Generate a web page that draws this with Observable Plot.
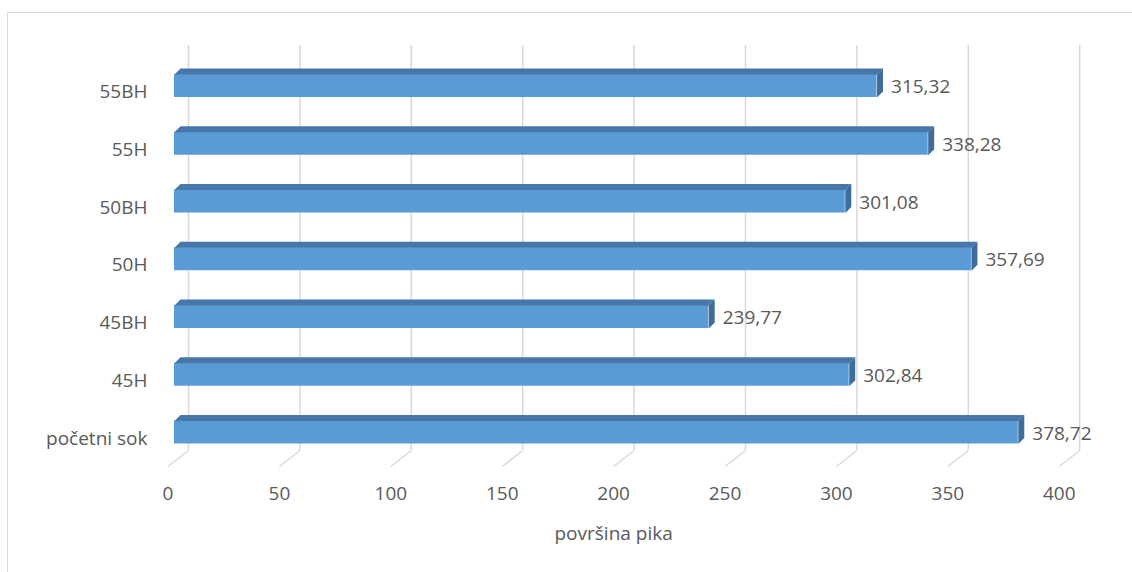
<!DOCTYPE html>
<html>
<head>
<meta charset="utf-8">
<script src="https://cdn.jsdelivr.net/npm/d3@7"></script>
<script src="https://cdn.jsdelivr.net/npm/@observablehq/plot@0.6"></script>
<style>
  html, body { margin: 0; padding: 0; background: #fff; overflow: hidden; width: 1132px; height: 572px; }
  #frame { position: absolute; left: 7px; top: 12px; width: 1140px; height: 580px; border: 1px solid #d9d9d9; box-sizing: border-box; }
  #chart { position: absolute; left: 0; top: 0; }
</style>
</head>
<body>
<div id="frame"></div>
<div id="chart"></div>
<script>
// Data (bottom to top)
const categories = ["početni sok", "45H", "45BH", "50H", "50BH", "55H", "55BH"];
const values = [378.72, 302.84, 239.77, 357.69, 301.08, 338.28, 315.32];
const valueLabels = ["378,72", "302,84", "239,77", "357,69", "301,08", "338,28", "315,32"];
const xTicks = [0, 50, 100, 150, 200, 250, 300, 350, 400];
const xTitle = "površina pika";

const bars = categories.map((c, i) => ({cat: c, i, v: values[i], label: valueLabels[i]}));

// 3D geometry (in data units)
const half = 0.199;     // half height of the front face
const depthY = 0.104;   // top face depth (vertical)
const depthX = 2.69;    // top face depth (horizontal)
const backX = 6.28, frontX = -2.9;
const gridTop = 6.70, gridBottom = -0.312, floorFront = -0.589;

const topFaces = bars.flatMap(b => [
  {cat: b.cat, x: 0, y: b.i + half},
  {cat: b.cat, x: b.v, y: b.i + half},
  {cat: b.cat, x: b.v + depthX, y: b.i + half + depthY},
  {cat: b.cat, x: depthX, y: b.i + half + depthY}
]);
const sideFaces = bars.flatMap(b => [
  {cat: b.cat, x: b.v, y: b.i - half},
  {cat: b.cat, x: b.v, y: b.i + half},
  {cat: b.cat, x: b.v + depthX, y: b.i + half + depthY},
  {cat: b.cat, x: b.v + depthX, y: b.i - half + depthY}
]);

const font = "'Open Sans', sans-serif";
const textColor = "#595959";
const gridColor = "#d9d9d9";

const chart = Plot.plot({
  width: 1132,
  height: 572,
  margin: 0,
  style: {fontFamily: font, background: "transparent"},
  x: {domain: [0, 400], range: [174, 1065.2], axis: null},
  y: {domain: [0, 6], range: [432, 85.5], axis: null},
  marks: [
    Plot.ruleX(xTicks, {x: d => d + backX, y1: gridBottom, y2: gridTop, stroke: gridColor, strokeWidth: 1.5}),
    Plot.link(xTicks, {x1: d => d + backX, y1: gridBottom, x2: d => d + frontX, y2: floorFront, stroke: gridColor, strokeWidth: 1.5}),
    Plot.rect(bars, {x1: 0, x2: "v", y1: d => d.i - half, y2: d => d.i + half, fill: "#5b9bd5"}),
    Plot.line(topFaces, {x: "x", y: "y", z: "cat", fill: "#4677a8", stroke: "none"}),
    Plot.line(sideFaces, {x: "x", y: "y", z: "cat", fill: "#3e6d9a", stroke: "none"}),
    Plot.text(bars, {x: d => d.v + depthX, y: "i", text: "label", dx: 8, dy: 1, textAnchor: "start", fontSize: 19, fill: textColor}),
    Plot.text(bars, {x: 0, y: "i", text: "cat", dx: -27, dy: 6, textAnchor: "end", fontSize: 19, fill: textColor}),
    Plot.text(xTicks, {x: d => d + frontX, y: -1.056, text: d => String(d), fontSize: 19, fill: textColor}),
    Plot.text([xTitle], {x: 200 + frontX, y: -1.749, text: d => d, fontSize: 19, fill: textColor})
  ]
});
document.getElementById("chart").appendChild(chart);
</script>
</body>
</html>
